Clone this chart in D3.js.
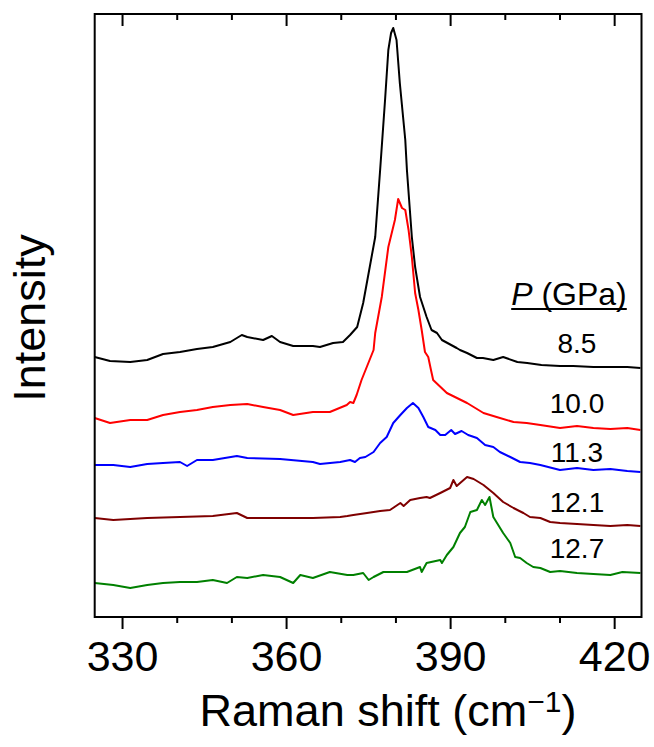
<!DOCTYPE html>
<html>
<head>
<meta charset="utf-8">
<script src="https://cdn.jsdelivr.net/npm/d3@7"></script>
<style>
  body { margin: 0; background: #fff; }
  svg text { font-family: "Liberation Sans", Arial, sans-serif; fill: #000; }
</style>
</head>
<body>
<div id="chart"></div>
<script>
(function() {
    'use strict';

    // pressures (GPa) and colours, top curve first
    var pressures = ['8.5', '10.0', '11.3', '12.1', '12.7'];
    var colors = ['#000000', '#ff0000', '#0000ff', '#7f0000', '#008000'];

    // spectra: [Raman shift (cm-1), stacked intensity (arb. units)]
    var spec85 = [
        [325.0, 260], [327.8, 256], [331.5, 255], [334.6, 257], [337.5, 263], [340.6, 265],
        [343.7, 268], [346.6, 270], [349.8, 275], [351.9, 282], [352.9, 280], [355.8, 277],
        [357.4, 281], [358.9, 275], [361.3, 271], [364.9, 271], [366.2, 270], [368.6, 274],
        [370.4, 275], [371.7, 282], [373.0, 290], [374.1, 314], [376.3, 380], [377.2, 447],
        [378.1, 517], [378.7, 567], [379.2, 584], [379.6, 589], [380.2, 577], [380.8, 534],
        [381.8, 477], [382.1, 447], [383.0, 380], [383.6, 350], [384.5, 320], [385.7, 300],
        [386.6, 287], [387.6, 284], [388.5, 277], [391.2, 269], [391.8, 267], [393.1, 264],
        [394.9, 259], [396.0, 259], [397.9, 257], [399.7, 260], [402.3, 255], [404.1, 254],
        [406.7, 252], [410.1, 251], [412.5, 251], [416.2, 250], [419.8, 250], [422.4, 250],
        [424.8, 249]
    ];
    var spec100 = [
        [325.0, 199], [327.8, 194], [331.5, 197], [334.6, 197], [337.5, 202], [340.6, 205],
        [343.7, 207], [346.6, 210], [349.8, 212], [352.9, 213], [355.8, 210], [358.9, 207],
        [361.3, 202], [364.9, 205], [368.0, 205], [371.1, 212], [371.7, 215], [372.3, 214],
        [372.9, 222], [373.8, 237], [376.0, 267], [376.3, 284], [377.5, 320], [378.7, 370],
        [379.9, 397], [380.5, 418], [381.2, 409], [381.8, 407], [382.4, 387], [383.0, 360],
        [383.6, 324], [384.2, 307], [384.8, 287], [385.4, 265], [386.0, 260], [386.5, 247],
        [386.9, 237], [389.4, 224], [393.1, 214], [396.1, 204], [398.5, 200], [401.6, 195],
        [404.0, 194], [406.5, 192], [410.1, 189], [413.2, 191], [416.2, 189], [419.3, 188],
        [422.4, 189], [424.8, 187]
    ];
    var spec113 = [
        [325.0, 152], [328.4, 152], [331.5, 150], [334.6, 153], [337.5, 154], [340.6, 155],
        [341.9, 151], [343.7, 157], [346.6, 157], [351.0, 161], [352.9, 159], [358.9, 158],
        [364.9, 155], [366.2, 153], [369.9, 155], [371.7, 157], [372.6, 155], [373.5, 159],
        [374.5, 160], [376.0, 165], [377.2, 174], [378.4, 180], [379.6, 194], [380.9, 202],
        [382.1, 209], [383.2, 214], [384.2, 209], [385.1, 200], [386.0, 190], [387.3, 187],
        [388.2, 182], [389.1, 182], [390.2, 187], [390.9, 183], [392.1, 186], [393.3, 182],
        [394.9, 179], [396.4, 172], [397.9, 170], [399.1, 165], [401.0, 160], [402.8, 155],
        [404.6, 154], [406.5, 152], [410.1, 147], [413.2, 149], [416.2, 147], [419.3, 148],
        [422.4, 146], [424.8, 145]
    ];
    var spec121 = [
        [325.0, 99], [328.4, 97], [334.6, 99], [340.6, 100], [346.6, 101], [351.0, 104],
        [352.9, 99], [358.9, 99], [364.9, 99], [369.9, 100], [371.2, 101], [372.3, 102],
        [374.8, 104], [377.2, 106], [379.0, 107], [380.9, 114], [381.5, 111], [382.7, 117],
        [384.5, 119], [385.7, 120], [386.3, 119], [388.2, 124], [390.0, 129], [390.6, 137],
        [391.2, 131], [393.1, 140], [394.3, 138], [396.1, 132], [397.9, 124], [399.7, 115],
        [401.6, 109], [403.4, 104], [404.6, 100], [406.5, 99], [408.3, 95], [410.1, 94],
        [413.2, 93], [416.2, 92], [419.3, 91], [422.4, 92], [424.8, 91]
    ];
    var spec127 = [
        [325.0, 34], [328.4, 32], [331.5, 29], [334.6, 32], [337.5, 34], [340.6, 35],
        [343.7, 35], [346.6, 37], [349.2, 34], [351.0, 40], [352.9, 39], [355.8, 42],
        [358.9, 40], [361.3, 34], [362.6, 42], [364.9, 39], [368.0, 45], [371.2, 42],
        [372.3, 42], [374.1, 44], [375.1, 37], [376.0, 40], [377.8, 45], [379.6, 45],
        [382.1, 45], [384.5, 50], [384.8, 45], [385.7, 54], [388.2, 57], [388.5, 54],
        [389.4, 62], [390.6, 70], [391.8, 84], [392.7, 90], [393.7, 105], [394.9, 107],
        [395.8, 117], [396.4, 112], [397.2, 120], [397.9, 100], [399.7, 84], [401.0, 74],
        [401.9, 60], [402.8, 59], [404.0, 54], [405.2, 50], [406.5, 49], [408.3, 45],
        [410.1, 46], [413.2, 44], [416.2, 43], [419.3, 42], [421.5, 45], [424.8, 44]
    ];
    var spectra = [spec85, spec100, spec113, spec121, spec127];

    var majorTicks = [330, 360, 390, 420];
    var minorTicks = [340, 350, 370, 380, 400, 410];

    // layout
    var W = 654, H = 747;
    var left = 94.7, right = 641.5, top = 14, bottom = 617;
    var labelX = 413.2;                         // in cm-1
    var labelY = [264, 204, 155, 105, 59];      // label baselines, intensity units
    var titleY = 312;

    var x = d3.scaleLinear().domain([325, 425]).range([left, right]);
    var y = d3.scaleLinear().domain([0, 603]).range([bottom, top]);

    var svg = d3.select('#chart')
      .append('svg')
        .attr('width', W)
        .attr('height', H);

    svg.append('defs').append('clipPath').attr('id', 'clip')
      .append('rect')
        .attr('x', left).attr('y', top)
        .attr('width', right - left).attr('height', bottom - top);

    var line = d3.line()
        .x(function(d) { return x(d[0]); })
        .y(function(d) { return y(d[1]); });

    svg.append('g')
        .attr('clip-path', 'url(#clip)')
      .selectAll('path')
      .data(spectra)
      .join('path')
        .attr('d', line)
        .attr('fill', 'none')
        .attr('stroke', function(d, i) { return colors[i]; })
        .attr('stroke-width', 2)
        .attr('stroke-linejoin', 'round');

    // axes
    function styleAxis(g) {
        g.select('.domain').remove();
        g.selectAll('line').attr('stroke', '#000').attr('stroke-width', 2);
    }

    svg.append('g')
        .attr('transform', 'translate(0,' + bottom + ')')
        .call(d3.axisBottom(x).tickValues(majorTicks).tickSize(12).tickPadding(11).tickFormat(d3.format('d')))
        .call(styleAxis)
        .selectAll('text')
          .attr('font-size', 43)
          .attr('font-family', '"Liberation Sans", Arial, sans-serif');

    svg.append('g')
        .attr('transform', 'translate(0,' + bottom + ')')
        .call(d3.axisBottom(x).tickValues(minorTicks).tickSize(6).tickFormat(''))
        .call(styleAxis);

    svg.append('g')
        .attr('transform', 'translate(0,' + top + ')')
        .call(d3.axisTop(x).tickValues(majorTicks).tickSize(-12).tickFormat(''))
        .call(styleAxis);

    svg.append('g')
        .attr('transform', 'translate(0,' + top + ')')
        .call(d3.axisTop(x).tickValues(minorTicks).tickSize(-6).tickFormat(''))
        .call(styleAxis);

    // frame
    svg.append('rect')
        .attr('x', left).attr('y', top)
        .attr('width', right - left).attr('height', bottom - top)
        .attr('fill', 'none')
        .attr('stroke', '#000')
        .attr('stroke-width', 2);

    // axis titles
    var xt = svg.append('text')
        .attr('x', 388)
        .attr('y', 726)
        .attr('text-anchor', 'middle')
        .attr('font-size', 45);
    xt.append('tspan').text('Raman shift (cm');
    xt.append('tspan').attr('font-size', 30).attr('dy', -14).text('\u22121');
    xt.append('tspan').attr('dy', 14).text(')');

    svg.append('text')
        .attr('transform', 'translate(45,318) rotate(-90)')
        .attr('text-anchor', 'middle')
        .attr('font-size', 45)
        .text('Intensity');

    // pressure labels
    var lt = svg.append('text')
        .attr('x', x(labelX) - 8)
        .attr('y', y(titleY))
        .attr('text-anchor', 'middle')
        .attr('font-size', 32);
    lt.append('tspan').attr('font-style', 'italic').text('P');
    lt.append('tspan').text(' (GPa)');
    var bb = lt.node().getBBox();
    svg.append('line')
        .attr('x1', bb.x).attr('x2', bb.x + bb.width)
        .attr('y1', y(titleY) + 4).attr('y2', y(titleY) + 4)
        .attr('stroke', '#000')
        .attr('stroke-width', 2);

    svg.append('g')
      .selectAll('text')
      .data(pressures)
      .join('text')
        .attr('x', x(labelX))
        .attr('y', function(d, i) { return y(labelY[i]); })
        .attr('text-anchor', 'middle')
        .attr('font-size', 28)
        .text(function(d) { return d; });
}());
</script>
</body>
</html>
